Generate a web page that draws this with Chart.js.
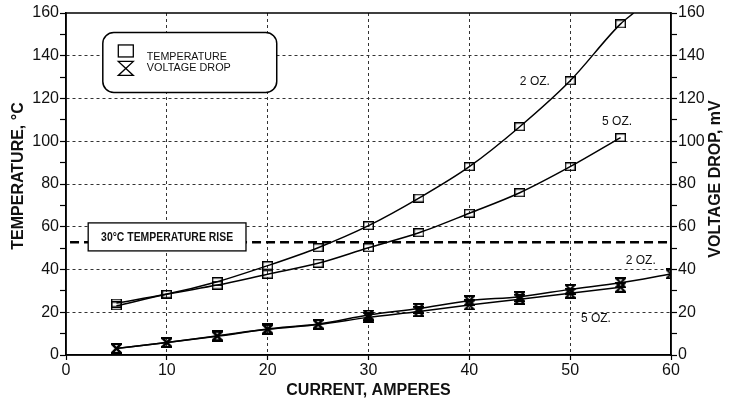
<!DOCTYPE html>
<html>
<head>
<meta charset="utf-8">
<script src="https://cdn.jsdelivr.net/npm/chart.js@4.4.1/dist/chart.umd.min.js"></script>
<style>
  html, body { margin: 0; padding: 0; background: #fff; }
  #wrap { width: 737px; height: 402px; }
</style>
</head>
<body>
<div id="wrap"><canvas id="chart"></canvas></div>
<script>
// Current (A) for each measured point
const currents = [5, 10, 15, 20, 25, 30, 35, 40, 45, 50, 55];
const currents60 = [5, 10, 15, 20, 25, 30, 35, 40, 45, 50, 55, 60];

// Temperature, deg C (left axis)
const temp2oz = [24.3, 28.5, 34.3, 41.8, 50.2, 60.5, 73.4, 88.1, 106.8, 128.3, 154.9];
const temp5oz = [23.0, 28.4, 32.7, 37.8, 42.9, 50.2, 57.2, 66.3, 75.9, 88.1, 101.7];
// 2 oz curve leaves the top of the plot here
const temp2ozExit = { x: 56.3, y: 160 };

// Voltage drop, mV (right axis)
const volt2oz = [3.1, 5.9, 9.0, 12.2, 14.5, 18.7, 21.8, 25.4, 27.3, 30.7, 33.8, 37.9];
const volt5oz = [3.0, 5.8, 8.8, 12.0, 14.3, 17.6, 20.3, 23.4, 26.1, 28.9, 31.7];

// 30 deg C temperature rise line
const riseX = [0.4, 60];
const riseY = [52.7, 52.7];

const FONT = "'Liberation Sans', Arial, Helvetica, sans-serif";
Chart.defaults.font.family = FONT;
Chart.defaults.color = '#111';

// marker images
function makeSquare() {
    const c = document.createElement('canvas');
    c.width = 11; c.height = 9;
    const g = c.getContext('2d');
    g.strokeStyle = '#000';
    g.lineWidth = 1.4;
    g.strokeRect(0.7, 0.7, 9.6, 7.6);
    return c;
}
function hourglassPath(g, x, y, w, h) {
    g.beginPath();
    g.moveTo(x, y);
    g.lineTo(x + w, y);
    g.lineTo(x, y + h);
    g.lineTo(x + w, y + h);
    g.closePath();
}
function makeHourglass() {
    const c = document.createElement('canvas');
    c.width = 11; c.height = 11;
    const g = c.getContext('2d');
    g.strokeStyle = '#000';
    g.lineWidth = 2;
    hourglassPath(g, 1, 1, 9, 9);
    g.stroke();
    return c;
}
const squareImg = makeSquare();
const hourglassImg = makeHourglass();

const pts = (xs, ys) => ys.map((v, i) => ({ x: xs[i], y: v }));

const temp2ozData = pts(currents, temp2oz).concat([temp2ozExit]);
const lastIdx = temp2ozData.length - 1;

const lineBase = {
    borderColor: '#000',
    borderWidth: 1.5,
    fill: false,
    cubicInterpolationMode: 'monotone',
    pointBackgroundColor: 'rgba(0,0,0,0)',
    pointBorderColor: '#000'
};

// Draws frame, legend, notes and axis titles
const overlay = {
    id: 'overlay',
    afterDatasetsDraw(chart) {
        const { ctx, chartArea: a, scales: { x, y } } = chart;
        ctx.save();

        // frame
        ctx.strokeStyle = '#000';
        ctx.lineWidth = 1.5;
        ctx.strokeRect(a.left, a.top, a.right - a.left, a.bottom - a.top);

        // legend box
        const lx = x.getPixelForValue(3.65), lr = x.getPixelForValue(20.9);
        const ly = y.getPixelForValue(150.9), lb = y.getPixelForValue(122.8);
        ctx.beginPath();
        ctx.roundRect(lx, ly, lr - lx, lb - ly, 11);
        ctx.fillStyle = '#fff';
        ctx.fill();
        ctx.lineWidth = 1.5;
        ctx.stroke();
        ctx.lineWidth = 1.3;
        ctx.strokeRect(lx + 15.5, ly + 12.5, 15, 12);
        hourglassPath(ctx, lx + 15.5, ly + 29, 15, 14);
        ctx.stroke();
        ctx.fillStyle = '#111';
        ctx.font = '11px ' + FONT;
        ctx.textAlign = 'left';
        ctx.textBaseline = 'middle';
        ctx.fillText('TEMPERATURE', lx + 44, ly + 25, 80);
        ctx.fillText('VOLTAGE DROP', lx + 44, ly + 36, 84);

        // temperature rise label
        const bx = x.getPixelForValue(2.2), br = x.getPixelForValue(17.85);
        const by = y.getPixelForValue(61.8), bb = y.getPixelForValue(48.7);
        ctx.fillStyle = '#fff';
        ctx.fillRect(bx, by, br - bx, bb - by);
        ctx.lineWidth = 1.3;
        ctx.strokeRect(bx, by, br - bx, bb - by);
        ctx.fillStyle = '#111';
        ctx.font = 'bold 12px ' + FONT;
        ctx.textAlign = 'center';
        ctx.fillText('30°C TEMPERATURE RISE', (bx + br) / 2, (by + bb) / 2 + 1, 132);

        // curve notes
        ctx.font = '12px ' + FONT;
        const notes = [['2 OZ.', 46.5, 127.7], ['5 OZ.', 54.65, 109], ['2 OZ.', 57.0, 44.0], ['5 OZ.', 52.55, 16.8]];
        notes.forEach(([t, vx, vy]) => ctx.fillText(t, x.getPixelForValue(vx), y.getPixelForValue(vy)));

        // axis titles drawn bottom-to-top on both sides
        ctx.font = 'bold 16px ' + FONT;
        ctx.save();
        ctx.translate(19, 176);
        ctx.rotate(-Math.PI / 2);
        ctx.fillText('TEMPERATURE, °C', 0, 0);
        ctx.restore();
        ctx.save();
        ctx.translate(a.right + 45, 179);
        ctx.rotate(-Math.PI / 2);
        ctx.fillText('VOLTAGE DROP, mV', 0, 0);
        ctx.restore();

        ctx.restore();
    }
};

const tickFont = { family: FONT, size: 16 };
const yGridColor = c => (c.tick && c.tick.value % 20 === 0 && c.tick.value > 0 && c.tick.value < 160) ? '#333' : 'rgba(0,0,0,0)';

new Chart(document.getElementById('chart'), {
    type: 'line',
    data: {
        datasets: [
            {
                ...lineBase,
                label: 'Temperature 2 oz',
                data: temp2ozData,
                yAxisID: 'y',
                pointStyle: c => c.dataIndex === lastIdx ? 'circle' : squareImg,
                pointRadius: c => c.dataIndex === lastIdx ? 0 : 5
            },
            {
                ...lineBase,
                label: 'Temperature 5 oz',
                data: pts(currents, temp5oz),
                yAxisID: 'y',
                pointStyle: squareImg
            },
            {
                ...lineBase,
                label: 'Voltage drop 2 oz',
                data: pts(currents60, volt2oz),
                yAxisID: 'y1',
                pointStyle: hourglassImg
            },
            {
                ...lineBase,
                label: 'Voltage drop 5 oz',
                data: pts(currents, volt5oz),
                yAxisID: 'y1',
                pointStyle: hourglassImg
            },
            {
                label: '30°C temperature rise',
                data: pts(riseX, riseY),
                yAxisID: 'y',
                borderColor: '#000',
                borderWidth: 2.5,
                borderDash: [9, 5],
                pointRadius: 0,
                fill: false
            }
        ]
    },
    options: {
        responsive: true,
        maintainAspectRatio: false,
        animation: false,
        layout: { padding: { top: 13, left: 0, right: 0, bottom: 0 } },
        plugins: {
            legend: { display: false },
            tooltip: { enabled: false }
        },
        scales: {
            x: {
                type: 'linear',
                min: 0,
                max: 60,
                ticks: { stepSize: 10, font: tickFont, color: '#111', padding: 1 },
                grid: {
                    color: c => (c.tick && c.tick.value > 0 && c.tick.value < 60) ? '#333' : 'rgba(0,0,0,0)',
                    lineWidth: 1,
                    tickLength: 5,
                    tickColor: '#000',
                    tickWidth: 1.2
                },
                border: { color: '#000', width: 1.5, dash: [3, 3] },
                title: {
                    display: true,
                    text: 'CURRENT, AMPERES',
                    color: '#111',
                    font: { family: FONT, size: 16, weight: 'bold' },
                    padding: { top: 0, bottom: 2 }
                },
                afterFit: s => { s.height = 47; }
            },
            y: {
                position: 'left',
                min: 0,
                max: 160,
                ticks: { stepSize: 10, autoSkip: false, font: tickFont, color: '#111', padding: 1,
                    callback: v => v % 20 === 0 ? v : '' },
                grid: { color: yGridColor, lineWidth: 1, tickLength: 6, tickColor: '#000', tickWidth: 1.2 },
                border: { color: '#000', width: 1.5, dash: [3, 3] },
                afterFit: s => { s.width = 66; }
            },
            y1: {
                position: 'right',
                min: 0,
                max: 160,
                ticks: { stepSize: 10, autoSkip: false, font: tickFont, color: '#111', padding: 1,
                    callback: v => v % 20 === 0 ? v : '' },
                grid: { drawOnChartArea: false, tickLength: 6, tickColor: '#000', tickWidth: 1.2 },
                border: { color: '#000', width: 1.5 },
                afterFit: s => { s.width = 66; }
            }
        }
    },
    plugins: [overlay]
});
</script>
</body>
</html>
